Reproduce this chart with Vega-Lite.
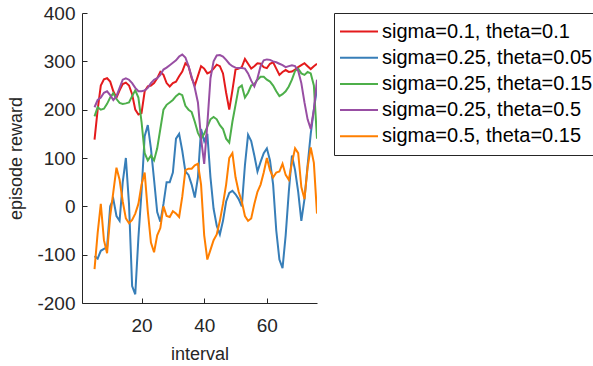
{
  "$schema": "https://vega.github.io/schema/vega-lite/v6.json",
  "width": 235,
  "height": 290,
  "autosize": "none",
  "padding": {"left": 82, "top": 13, "right": 276, "bottom": 63},
  "background": "white",
  "datasets": {
    "rows": [
      {"interval":5,"series":"sigma=0.1, theta=0.1","reward":138},{"interval":6,"series":"sigma=0.1, theta=0.1","reward":200},{"interval":7,"series":"sigma=0.1, theta=0.1","reward":250},{"interval":8,"series":"sigma=0.1, theta=0.1","reward":263},{"interval":9,"series":"sigma=0.1, theta=0.1","reward":265},{"interval":10,"series":"sigma=0.1, theta=0.1","reward":258},{"interval":11,"series":"sigma=0.1, theta=0.1","reward":238},{"interval":12,"series":"sigma=0.1, theta=0.1","reward":225},{"interval":13,"series":"sigma=0.1, theta=0.1","reward":240},{"interval":14,"series":"sigma=0.1, theta=0.1","reward":253},
      {"interval":15,"series":"sigma=0.1, theta=0.1","reward":256},{"interval":16,"series":"sigma=0.1, theta=0.1","reward":250},{"interval":17,"series":"sigma=0.1, theta=0.1","reward":232},{"interval":18,"series":"sigma=0.1, theta=0.1","reward":200},{"interval":19,"series":"sigma=0.1, theta=0.1","reward":190},{"interval":20,"series":"sigma=0.1, theta=0.1","reward":193},{"interval":21,"series":"sigma=0.1, theta=0.1","reward":238},{"interval":22,"series":"sigma=0.1, theta=0.1","reward":248},{"interval":23,"series":"sigma=0.1, theta=0.1","reward":250},{"interval":24,"series":"sigma=0.1, theta=0.1","reward":255},
      {"interval":25,"series":"sigma=0.1, theta=0.1","reward":265},{"interval":26,"series":"sigma=0.1, theta=0.1","reward":278},{"interval":27,"series":"sigma=0.1, theta=0.1","reward":272},{"interval":28,"series":"sigma=0.1, theta=0.1","reward":255},{"interval":29,"series":"sigma=0.1, theta=0.1","reward":248},{"interval":30,"series":"sigma=0.1, theta=0.1","reward":255},{"interval":31,"series":"sigma=0.1, theta=0.1","reward":258},{"interval":32,"series":"sigma=0.1, theta=0.1","reward":269},{"interval":33,"series":"sigma=0.1, theta=0.1","reward":279},{"interval":34,"series":"sigma=0.1, theta=0.1","reward":296},
      {"interval":35,"series":"sigma=0.1, theta=0.1","reward":290},{"interval":36,"series":"sigma=0.1, theta=0.1","reward":265},{"interval":37,"series":"sigma=0.1, theta=0.1","reward":250},{"interval":38,"series":"sigma=0.1, theta=0.1","reward":270},{"interval":39,"series":"sigma=0.1, theta=0.1","reward":290},{"interval":40,"series":"sigma=0.1, theta=0.1","reward":285},{"interval":41,"series":"sigma=0.1, theta=0.1","reward":275},{"interval":42,"series":"sigma=0.1, theta=0.1","reward":278},{"interval":43,"series":"sigma=0.1, theta=0.1","reward":285},{"interval":44,"series":"sigma=0.1, theta=0.1","reward":293},
      {"interval":45,"series":"sigma=0.1, theta=0.1","reward":290},{"interval":46,"series":"sigma=0.1, theta=0.1","reward":275},{"interval":47,"series":"sigma=0.1, theta=0.1","reward":235},{"interval":48,"series":"sigma=0.1, theta=0.1","reward":200},{"interval":49,"series":"sigma=0.1, theta=0.1","reward":240},{"interval":50,"series":"sigma=0.1, theta=0.1","reward":283},{"interval":51,"series":"sigma=0.1, theta=0.1","reward":285},{"interval":52,"series":"sigma=0.1, theta=0.1","reward":288},{"interval":53,"series":"sigma=0.1, theta=0.1","reward":305},{"interval":54,"series":"sigma=0.1, theta=0.1","reward":295},
      {"interval":55,"series":"sigma=0.1, theta=0.1","reward":285},{"interval":56,"series":"sigma=0.1, theta=0.1","reward":290},{"interval":57,"series":"sigma=0.1, theta=0.1","reward":296},{"interval":58,"series":"sigma=0.1, theta=0.1","reward":295},{"interval":59,"series":"sigma=0.1, theta=0.1","reward":288},{"interval":60,"series":"sigma=0.1, theta=0.1","reward":286},{"interval":61,"series":"sigma=0.1, theta=0.1","reward":295},{"interval":62,"series":"sigma=0.1, theta=0.1","reward":298},{"interval":63,"series":"sigma=0.1, theta=0.1","reward":285},{"interval":64,"series":"sigma=0.1, theta=0.1","reward":272},
      {"interval":65,"series":"sigma=0.1, theta=0.1","reward":278},{"interval":66,"series":"sigma=0.1, theta=0.1","reward":282},{"interval":67,"series":"sigma=0.1, theta=0.1","reward":278},{"interval":68,"series":"sigma=0.1, theta=0.1","reward":279},{"interval":69,"series":"sigma=0.1, theta=0.1","reward":283},{"interval":70,"series":"sigma=0.1, theta=0.1","reward":288},{"interval":71,"series":"sigma=0.1, theta=0.1","reward":292},{"interval":72,"series":"sigma=0.1, theta=0.1","reward":296},{"interval":73,"series":"sigma=0.1, theta=0.1","reward":290},{"interval":74,"series":"sigma=0.1, theta=0.1","reward":284},
      {"interval":75,"series":"sigma=0.1, theta=0.1","reward":290},{"interval":76,"series":"sigma=0.1, theta=0.1","reward":295},

      {"interval":5,"series":"sigma=0.25, theta=0.05","reward":-103},{"interval":6,"series":"sigma=0.25, theta=0.05","reward":-108},{"interval":7,"series":"sigma=0.25, theta=0.05","reward":-92},{"interval":8,"series":"sigma=0.25, theta=0.05","reward":-88},{"interval":9,"series":"sigma=0.25, theta=0.05","reward":-85},{"interval":10,"series":"sigma=0.25, theta=0.05","reward":0},{"interval":11,"series":"sigma=0.25, theta=0.05","reward":15},{"interval":12,"series":"sigma=0.25, theta=0.05","reward":-20},{"interval":13,"series":"sigma=0.25, theta=0.05","reward":-30},{"interval":14,"series":"sigma=0.25, theta=0.05","reward":50},
      {"interval":15,"series":"sigma=0.25, theta=0.05","reward":100},{"interval":16,"series":"sigma=0.25, theta=0.05","reward":5},{"interval":17,"series":"sigma=0.25, theta=0.05","reward":-165},{"interval":18,"series":"sigma=0.25, theta=0.05","reward":-182},{"interval":19,"series":"sigma=0.25, theta=0.05","reward":-65},{"interval":20,"series":"sigma=0.25, theta=0.05","reward":30},{"interval":21,"series":"sigma=0.25, theta=0.05","reward":145},{"interval":22,"series":"sigma=0.25, theta=0.05","reward":168},{"interval":23,"series":"sigma=0.25, theta=0.05","reward":120},{"interval":24,"series":"sigma=0.25, theta=0.05","reward":55},
      {"interval":25,"series":"sigma=0.25, theta=0.05","reward":-12},{"interval":26,"series":"sigma=0.25, theta=0.05","reward":-32},{"interval":27,"series":"sigma=0.25, theta=0.05","reward":5},{"interval":28,"series":"sigma=0.25, theta=0.05","reward":50},{"interval":29,"series":"sigma=0.25, theta=0.05","reward":50},{"interval":30,"series":"sigma=0.25, theta=0.05","reward":70},{"interval":31,"series":"sigma=0.25, theta=0.05","reward":140},{"interval":32,"series":"sigma=0.25, theta=0.05","reward":150},{"interval":33,"series":"sigma=0.25, theta=0.05","reward":115},{"interval":34,"series":"sigma=0.25, theta=0.05","reward":72},
      {"interval":35,"series":"sigma=0.25, theta=0.05","reward":65},{"interval":36,"series":"sigma=0.25, theta=0.05","reward":45},{"interval":37,"series":"sigma=0.25, theta=0.05","reward":18},{"interval":38,"series":"sigma=0.25, theta=0.05","reward":60},{"interval":39,"series":"sigma=0.25, theta=0.05","reward":160},{"interval":40,"series":"sigma=0.25, theta=0.05","reward":135},{"interval":41,"series":"sigma=0.25, theta=0.05","reward":150},{"interval":42,"series":"sigma=0.25, theta=0.05","reward":60},{"interval":43,"series":"sigma=0.25, theta=0.05","reward":-5},{"interval":44,"series":"sigma=0.25, theta=0.05","reward":-40},
      {"interval":45,"series":"sigma=0.25, theta=0.05","reward":-58},{"interval":46,"series":"sigma=0.25, theta=0.05","reward":-30},{"interval":47,"series":"sigma=0.25, theta=0.05","reward":10},{"interval":48,"series":"sigma=0.25, theta=0.05","reward":28},{"interval":49,"series":"sigma=0.25, theta=0.05","reward":32},{"interval":50,"series":"sigma=0.25, theta=0.05","reward":25},{"interval":51,"series":"sigma=0.25, theta=0.05","reward":15},{"interval":52,"series":"sigma=0.25, theta=0.05","reward":0},{"interval":53,"series":"sigma=0.25, theta=0.05","reward":85},{"interval":54,"series":"sigma=0.25, theta=0.05","reward":148},
      {"interval":55,"series":"sigma=0.25, theta=0.05","reward":135},{"interval":56,"series":"sigma=0.25, theta=0.05","reward":105},{"interval":57,"series":"sigma=0.25, theta=0.05","reward":72},{"interval":58,"series":"sigma=0.25, theta=0.05","reward":92},{"interval":59,"series":"sigma=0.25, theta=0.05","reward":110},{"interval":60,"series":"sigma=0.25, theta=0.05","reward":120},{"interval":61,"series":"sigma=0.25, theta=0.05","reward":95},{"interval":62,"series":"sigma=0.25, theta=0.05","reward":45},{"interval":63,"series":"sigma=0.25, theta=0.05","reward":-50},{"interval":64,"series":"sigma=0.25, theta=0.05","reward":-110},
      {"interval":65,"series":"sigma=0.25, theta=0.05","reward":-128},{"interval":66,"series":"sigma=0.25, theta=0.05","reward":-60},{"interval":67,"series":"sigma=0.25, theta=0.05","reward":30},{"interval":68,"series":"sigma=0.25, theta=0.05","reward":105},{"interval":69,"series":"sigma=0.25, theta=0.05","reward":75},{"interval":70,"series":"sigma=0.25, theta=0.05","reward":30},{"interval":71,"series":"sigma=0.25, theta=0.05","reward":-30},{"interval":72,"series":"sigma=0.25, theta=0.05","reward":15},{"interval":73,"series":"sigma=0.25, theta=0.05","reward":85},{"interval":74,"series":"sigma=0.25, theta=0.05","reward":150},
      {"interval":75,"series":"sigma=0.25, theta=0.05","reward":200},{"interval":76,"series":"sigma=0.25, theta=0.05","reward":245},

      {"interval":5,"series":"sigma=0.25, theta=0.15","reward":186},{"interval":6,"series":"sigma=0.25, theta=0.15","reward":205},{"interval":7,"series":"sigma=0.25, theta=0.15","reward":200},{"interval":8,"series":"sigma=0.25, theta=0.15","reward":202},{"interval":9,"series":"sigma=0.25, theta=0.15","reward":212},{"interval":10,"series":"sigma=0.25, theta=0.15","reward":225},{"interval":11,"series":"sigma=0.25, theta=0.15","reward":234},{"interval":12,"series":"sigma=0.25, theta=0.15","reward":222},{"interval":13,"series":"sigma=0.25, theta=0.15","reward":214},{"interval":14,"series":"sigma=0.25, theta=0.15","reward":212},
      {"interval":15,"series":"sigma=0.25, theta=0.15","reward":213},{"interval":16,"series":"sigma=0.25, theta=0.15","reward":215},{"interval":17,"series":"sigma=0.25, theta=0.15","reward":228},{"interval":18,"series":"sigma=0.25, theta=0.15","reward":240},{"interval":19,"series":"sigma=0.25, theta=0.15","reward":225},{"interval":20,"series":"sigma=0.25, theta=0.15","reward":175},{"interval":21,"series":"sigma=0.25, theta=0.15","reward":110},{"interval":22,"series":"sigma=0.25, theta=0.15","reward":95},{"interval":23,"series":"sigma=0.25, theta=0.15","reward":105},{"interval":24,"series":"sigma=0.25, theta=0.15","reward":95},
      {"interval":25,"series":"sigma=0.25, theta=0.15","reward":120},{"interval":26,"series":"sigma=0.25, theta=0.15","reward":160},{"interval":27,"series":"sigma=0.25, theta=0.15","reward":200},{"interval":28,"series":"sigma=0.25, theta=0.15","reward":210},{"interval":29,"series":"sigma=0.25, theta=0.15","reward":215},{"interval":30,"series":"sigma=0.25, theta=0.15","reward":220},{"interval":31,"series":"sigma=0.25, theta=0.15","reward":228},{"interval":32,"series":"sigma=0.25, theta=0.15","reward":233},{"interval":33,"series":"sigma=0.25, theta=0.15","reward":230},{"interval":34,"series":"sigma=0.25, theta=0.15","reward":208},
      {"interval":35,"series":"sigma=0.25, theta=0.15","reward":200},{"interval":36,"series":"sigma=0.25, theta=0.15","reward":195},{"interval":37,"series":"sigma=0.25, theta=0.15","reward":175},{"interval":38,"series":"sigma=0.25, theta=0.15","reward":152},{"interval":39,"series":"sigma=0.25, theta=0.15","reward":140},{"interval":40,"series":"sigma=0.25, theta=0.15","reward":150},{"interval":41,"series":"sigma=0.25, theta=0.15","reward":165},{"interval":42,"series":"sigma=0.25, theta=0.15","reward":180},{"interval":43,"series":"sigma=0.25, theta=0.15","reward":185},{"interval":44,"series":"sigma=0.25, theta=0.15","reward":180},
      {"interval":45,"series":"sigma=0.25, theta=0.15","reward":168},{"interval":46,"series":"sigma=0.25, theta=0.15","reward":160},{"interval":47,"series":"sigma=0.25, theta=0.15","reward":140},{"interval":48,"series":"sigma=0.25, theta=0.15","reward":132},{"interval":49,"series":"sigma=0.25, theta=0.15","reward":175},{"interval":50,"series":"sigma=0.25, theta=0.15","reward":210},{"interval":51,"series":"sigma=0.25, theta=0.15","reward":245},{"interval":52,"series":"sigma=0.25, theta=0.15","reward":250},{"interval":53,"series":"sigma=0.25, theta=0.15","reward":225},{"interval":54,"series":"sigma=0.25, theta=0.15","reward":235},
      {"interval":55,"series":"sigma=0.25, theta=0.15","reward":250},{"interval":56,"series":"sigma=0.25, theta=0.15","reward":253},{"interval":57,"series":"sigma=0.25, theta=0.15","reward":262},{"interval":58,"series":"sigma=0.25, theta=0.15","reward":268},{"interval":59,"series":"sigma=0.25, theta=0.15","reward":268},{"interval":60,"series":"sigma=0.25, theta=0.15","reward":262},{"interval":61,"series":"sigma=0.25, theta=0.15","reward":258},{"interval":62,"series":"sigma=0.25, theta=0.15","reward":250},{"interval":63,"series":"sigma=0.25, theta=0.15","reward":238},{"interval":64,"series":"sigma=0.25, theta=0.15","reward":228},
      {"interval":65,"series":"sigma=0.25, theta=0.15","reward":232},{"interval":66,"series":"sigma=0.25, theta=0.15","reward":238},{"interval":67,"series":"sigma=0.25, theta=0.15","reward":248},{"interval":68,"series":"sigma=0.25, theta=0.15","reward":262},{"interval":69,"series":"sigma=0.25, theta=0.15","reward":280},{"interval":70,"series":"sigma=0.25, theta=0.15","reward":285},{"interval":71,"series":"sigma=0.25, theta=0.15","reward":275},{"interval":72,"series":"sigma=0.25, theta=0.15","reward":272},{"interval":73,"series":"sigma=0.25, theta=0.15","reward":278},{"interval":74,"series":"sigma=0.25, theta=0.15","reward":275},
      {"interval":75,"series":"sigma=0.25, theta=0.15","reward":250},{"interval":76,"series":"sigma=0.25, theta=0.15","reward":140},

      {"interval":5,"series":"sigma=0.25, theta=0.5","reward":205},{"interval":6,"series":"sigma=0.25, theta=0.5","reward":220},{"interval":7,"series":"sigma=0.25, theta=0.5","reward":225},{"interval":8,"series":"sigma=0.25, theta=0.5","reward":235},{"interval":9,"series":"sigma=0.25, theta=0.5","reward":238},{"interval":10,"series":"sigma=0.25, theta=0.5","reward":230},{"interval":11,"series":"sigma=0.25, theta=0.5","reward":220},{"interval":12,"series":"sigma=0.25, theta=0.5","reward":228},{"interval":13,"series":"sigma=0.25, theta=0.5","reward":245},{"interval":14,"series":"sigma=0.25, theta=0.5","reward":262},
      {"interval":15,"series":"sigma=0.25, theta=0.5","reward":265},{"interval":16,"series":"sigma=0.25, theta=0.5","reward":262},{"interval":17,"series":"sigma=0.25, theta=0.5","reward":255},{"interval":18,"series":"sigma=0.25, theta=0.5","reward":245},{"interval":19,"series":"sigma=0.25, theta=0.5","reward":238},{"interval":20,"series":"sigma=0.25, theta=0.5","reward":238},{"interval":21,"series":"sigma=0.25, theta=0.5","reward":240},{"interval":22,"series":"sigma=0.25, theta=0.5","reward":245},{"interval":23,"series":"sigma=0.25, theta=0.5","reward":255},{"interval":24,"series":"sigma=0.25, theta=0.5","reward":262},
      {"interval":25,"series":"sigma=0.25, theta=0.5","reward":265},{"interval":26,"series":"sigma=0.25, theta=0.5","reward":272},{"interval":27,"series":"sigma=0.25, theta=0.5","reward":283},{"interval":28,"series":"sigma=0.25, theta=0.5","reward":287},{"interval":29,"series":"sigma=0.25, theta=0.5","reward":292},{"interval":30,"series":"sigma=0.25, theta=0.5","reward":297},{"interval":31,"series":"sigma=0.25, theta=0.5","reward":302},{"interval":32,"series":"sigma=0.25, theta=0.5","reward":310},{"interval":33,"series":"sigma=0.25, theta=0.5","reward":314},{"interval":34,"series":"sigma=0.25, theta=0.5","reward":308},
      {"interval":35,"series":"sigma=0.25, theta=0.5","reward":290},{"interval":36,"series":"sigma=0.25, theta=0.5","reward":268},{"interval":37,"series":"sigma=0.25, theta=0.5","reward":245},{"interval":38,"series":"sigma=0.25, theta=0.5","reward":215},{"interval":39,"series":"sigma=0.25, theta=0.5","reward":140},{"interval":40,"series":"sigma=0.25, theta=0.5","reward":88},{"interval":41,"series":"sigma=0.25, theta=0.5","reward":170},{"interval":42,"series":"sigma=0.25, theta=0.5","reward":265},{"interval":43,"series":"sigma=0.25, theta=0.5","reward":300},{"interval":44,"series":"sigma=0.25, theta=0.5","reward":312},
      {"interval":45,"series":"sigma=0.25, theta=0.5","reward":313},{"interval":46,"series":"sigma=0.25, theta=0.5","reward":310},{"interval":47,"series":"sigma=0.25, theta=0.5","reward":303},{"interval":48,"series":"sigma=0.25, theta=0.5","reward":295},{"interval":49,"series":"sigma=0.25, theta=0.5","reward":290},{"interval":50,"series":"sigma=0.25, theta=0.5","reward":287},{"interval":51,"series":"sigma=0.25, theta=0.5","reward":286},{"interval":52,"series":"sigma=0.25, theta=0.5","reward":286},{"interval":53,"series":"sigma=0.25, theta=0.5","reward":285},{"interval":54,"series":"sigma=0.25, theta=0.5","reward":275},
      {"interval":55,"series":"sigma=0.25, theta=0.5","reward":260},{"interval":56,"series":"sigma=0.25, theta=0.5","reward":248},{"interval":57,"series":"sigma=0.25, theta=0.5","reward":265},{"interval":58,"series":"sigma=0.25, theta=0.5","reward":290},{"interval":59,"series":"sigma=0.25, theta=0.5","reward":302},{"interval":60,"series":"sigma=0.25, theta=0.5","reward":304},{"interval":61,"series":"sigma=0.25, theta=0.5","reward":303},{"interval":62,"series":"sigma=0.25, theta=0.5","reward":300},{"interval":63,"series":"sigma=0.25, theta=0.5","reward":298},{"interval":64,"series":"sigma=0.25, theta=0.5","reward":295},
      {"interval":65,"series":"sigma=0.25, theta=0.5","reward":292},{"interval":66,"series":"sigma=0.25, theta=0.5","reward":288},{"interval":67,"series":"sigma=0.25, theta=0.5","reward":290},{"interval":68,"series":"sigma=0.25, theta=0.5","reward":292},{"interval":69,"series":"sigma=0.25, theta=0.5","reward":290},{"interval":70,"series":"sigma=0.25, theta=0.5","reward":280},{"interval":71,"series":"sigma=0.25, theta=0.5","reward":255},{"interval":72,"series":"sigma=0.25, theta=0.5","reward":215},{"interval":73,"series":"sigma=0.25, theta=0.5","reward":180},{"interval":74,"series":"sigma=0.25, theta=0.5","reward":160},
      {"interval":75,"series":"sigma=0.25, theta=0.5","reward":200},{"interval":76,"series":"sigma=0.25, theta=0.5","reward":262},

      {"interval":5,"series":"sigma=0.5, theta=0.15","reward":-130},{"interval":6,"series":"sigma=0.5, theta=0.15","reward":-55},{"interval":7,"series":"sigma=0.5, theta=0.15","reward":5},{"interval":8,"series":"sigma=0.5, theta=0.15","reward":-70},{"interval":9,"series":"sigma=0.5, theta=0.15","reward":-97},{"interval":10,"series":"sigma=0.5, theta=0.15","reward":-20},{"interval":11,"series":"sigma=0.5, theta=0.15","reward":30},{"interval":12,"series":"sigma=0.5, theta=0.15","reward":80},{"interval":13,"series":"sigma=0.5, theta=0.15","reward":55},{"interval":14,"series":"sigma=0.5, theta=0.15","reward":10},
      {"interval":15,"series":"sigma=0.5, theta=0.15","reward":-25},{"interval":16,"series":"sigma=0.5, theta=0.15","reward":-35},{"interval":17,"series":"sigma=0.5, theta=0.15","reward":-28},{"interval":18,"series":"sigma=0.5, theta=0.15","reward":-15},{"interval":19,"series":"sigma=0.5, theta=0.15","reward":5},{"interval":20,"series":"sigma=0.5, theta=0.15","reward":45},{"interval":21,"series":"sigma=0.5, theta=0.15","reward":70},{"interval":22,"series":"sigma=0.5, theta=0.15","reward":-10},{"interval":23,"series":"sigma=0.5, theta=0.15","reward":-75},{"interval":24,"series":"sigma=0.5, theta=0.15","reward":-95},
      {"interval":25,"series":"sigma=0.5, theta=0.15","reward":-60},{"interval":26,"series":"sigma=0.5, theta=0.15","reward":-45},{"interval":27,"series":"sigma=0.5, theta=0.15","reward":0},{"interval":28,"series":"sigma=0.5, theta=0.15","reward":-20},{"interval":29,"series":"sigma=0.5, theta=0.15","reward":-22},{"interval":30,"series":"sigma=0.5, theta=0.15","reward":-10},{"interval":31,"series":"sigma=0.5, theta=0.15","reward":-15},{"interval":32,"series":"sigma=0.5, theta=0.15","reward":-22},{"interval":33,"series":"sigma=0.5, theta=0.15","reward":20},{"interval":34,"series":"sigma=0.5, theta=0.15","reward":75},
      {"interval":35,"series":"sigma=0.5, theta=0.15","reward":78},{"interval":36,"series":"sigma=0.5, theta=0.15","reward":78},{"interval":37,"series":"sigma=0.5, theta=0.15","reward":85},{"interval":38,"series":"sigma=0.5, theta=0.15","reward":88},{"interval":39,"series":"sigma=0.5, theta=0.15","reward":45},{"interval":40,"series":"sigma=0.5, theta=0.15","reward":-60},{"interval":41,"series":"sigma=0.5, theta=0.15","reward":-110},{"interval":42,"series":"sigma=0.5, theta=0.15","reward":-90},{"interval":43,"series":"sigma=0.5, theta=0.15","reward":-70},{"interval":44,"series":"sigma=0.5, theta=0.15","reward":-58},
      {"interval":45,"series":"sigma=0.5, theta=0.15","reward":-30},{"interval":46,"series":"sigma=0.5, theta=0.15","reward":5},{"interval":47,"series":"sigma=0.5, theta=0.15","reward":45},{"interval":48,"series":"sigma=0.5, theta=0.15","reward":100},{"interval":49,"series":"sigma=0.5, theta=0.15","reward":110},{"interval":50,"series":"sigma=0.5, theta=0.15","reward":60},{"interval":51,"series":"sigma=0.5, theta=0.15","reward":30},{"interval":52,"series":"sigma=0.5, theta=0.15","reward":10},{"interval":53,"series":"sigma=0.5, theta=0.15","reward":-20},{"interval":54,"series":"sigma=0.5, theta=0.15","reward":-30},
      {"interval":55,"series":"sigma=0.5, theta=0.15","reward":-25},{"interval":56,"series":"sigma=0.5, theta=0.15","reward":5},{"interval":57,"series":"sigma=0.5, theta=0.15","reward":30},{"interval":58,"series":"sigma=0.5, theta=0.15","reward":45},{"interval":59,"series":"sigma=0.5, theta=0.15","reward":70},{"interval":60,"series":"sigma=0.5, theta=0.15","reward":100},{"interval":61,"series":"sigma=0.5, theta=0.15","reward":75},{"interval":62,"series":"sigma=0.5, theta=0.15","reward":60},{"interval":63,"series":"sigma=0.5, theta=0.15","reward":70},{"interval":64,"series":"sigma=0.5, theta=0.15","reward":72},
      {"interval":65,"series":"sigma=0.5, theta=0.15","reward":88},{"interval":66,"series":"sigma=0.5, theta=0.15","reward":65},{"interval":67,"series":"sigma=0.5, theta=0.15","reward":55},{"interval":68,"series":"sigma=0.5, theta=0.15","reward":90},{"interval":69,"series":"sigma=0.5, theta=0.15","reward":120},{"interval":70,"series":"sigma=0.5, theta=0.15","reward":110},{"interval":71,"series":"sigma=0.5, theta=0.15","reward":40},{"interval":72,"series":"sigma=0.5, theta=0.15","reward":15},{"interval":73,"series":"sigma=0.5, theta=0.15","reward":80},{"interval":74,"series":"sigma=0.5, theta=0.15","reward":122},
      {"interval":75,"series":"sigma=0.5, theta=0.15","reward":90},{"interval":76,"series":"sigma=0.5, theta=0.15","reward":-15}
    ]
  },
  "data": {"name": "rows"},
  "mark": {"type": "line", "strokeWidth": 2, "clip": true},
  "encoding": {
    "x": {
      "field": "interval", "type": "quantitative",
      "scale": {"domain": [1, 76], "nice": false, "zero": false},
      "axis": {"values": [20, 40, 60], "title": "interval", "titleX": 117.5, "titleY": 51, "titleBaseline": "middle", "labelPadding": 18}
    },
    "y": {
      "field": "reward", "type": "quantitative",
      "scale": {"domain": [-200, 400], "nice": false, "zero": false},
      "axis": {"values": [-200, -100, 0, 100, 200, 300, 400], "labelExpr": "datum.value < 0 ? '-' + abs(datum.value) : '' + datum.value", "title": "episode reward", "titleX": -66, "titleY": 145, "titleAngle": -90, "titleBaseline": "middle", "titleAlign": "center", "labelPadding": 12}
    },
    "color": {
      "field": "series", "type": "nominal",
      "scale": {
        "domain": ["sigma=0.1, theta=0.1", "sigma=0.25, theta=0.05", "sigma=0.25, theta=0.15", "sigma=0.25, theta=0.5", "sigma=0.5, theta=0.15"],
        "range": ["#e41a1c", "#377eb8", "#4daf4a", "#984ea3", "#ff7f00"]
      },
      "legend": {
        "title": null,
        "orient": "none",
        "legendX": 252,
        "legendY": 0,
        "symbolType": "M-2,0H2",
        "symbolSize": 361,
        "symbolStrokeWidth": 2,
        "symbolOffset": 6.5,
        "labelOffset": 12.5,
        "labelFontSize": 20,
        "labelFont": "Liberation Sans",
        "labelColor": "#000000",
        "labelLimit": 400,
        "rowPadding": 5.2,
        "padding": 8,
        "strokeColor": "#262626",
        "fillColor": "#ffffff"
      }
    }
  },
  "config": {
    "view": {"stroke": null},
    "font": "Liberation Sans",
    "axis": {
      "grid": false,
      "domainColor": "#262626",
      "domainWidth": 1,
      "tickColor": "#262626",
      "tickSize": -5,
      "labelFont": "Liberation Sans",
      "labelFontSize": 19,
      "labelColor": "#262626",
      "titleFont": "Liberation Sans",
      "titleFontSize": 18,
      "titleFontWeight": "normal",
      "titleColor": "#262626"
    }
  }
}
